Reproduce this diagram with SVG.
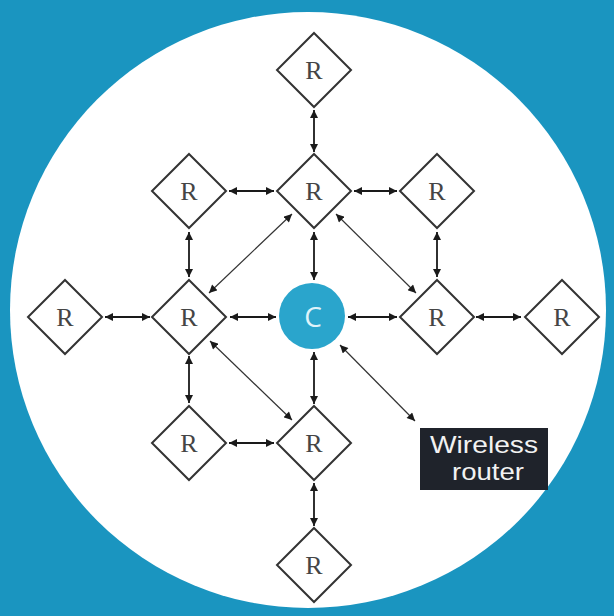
<svg xmlns="http://www.w3.org/2000/svg" width="614" height="616" viewBox="0 0 614 616">
<defs>
<marker id="ah" viewBox="0 0 10 10" refX="10" refY="5" markerWidth="9" markerHeight="8" markerUnits="userSpaceOnUse" orient="auto-start-reverse">
<path d="M0,0 L10,5 L0,10 Z" fill="#1a1a1a"/>
</marker>
<style>
.dia{fill:#fff;stroke:#333;stroke-width:2}
.rt{font-family:"Liberation Serif","DejaVu Serif",serif;font-size:26px;fill:#454545;text-anchor:middle}
.c{stroke:#1a1a1a;stroke-width:1.8;fill:none;marker-start:url(#ah);marker-end:url(#ah)}
.d{stroke:#333;stroke-width:1.2;fill:none;marker-start:url(#ah);marker-end:url(#ah)}
.wt{font-family:"Liberation Sans",Arial,sans-serif;font-size:24px;fill:#f2f2f2}
</style>
</defs>
<rect width="614" height="616" fill="#1a95c0"/>
<circle cx="308" cy="310" r="298" fill="#fff"/>
<g id="connectors">
<line class="c" x1="314" y1="110" x2="314" y2="152"/>
<line class="c" x1="229" y1="191" x2="274" y2="191"/>
<line class="c" x1="354" y1="191" x2="397" y2="191"/>
<line class="c" x1="189" y1="232" x2="189" y2="277"/>
<line class="c" x1="314" y1="232" x2="314" y2="280"/>
<line class="c" x1="437" y1="232" x2="437" y2="277"/>
<line class="d" x1="209" y1="293" x2="292" y2="214"/>
<line class="d" x1="336" y1="214" x2="416" y2="293"/>
<line class="c" x1="105" y1="317" x2="150" y2="317"/>
<line class="c" x1="230" y1="317" x2="276" y2="317"/>
<line class="c" x1="348" y1="317" x2="397" y2="317"/>
<line class="c" x1="476" y1="317" x2="521" y2="317"/>
<line class="c" x1="189" y1="356" x2="189" y2="403"/>
<line class="d" x1="210" y1="341" x2="292" y2="420"/>
<line class="c" x1="314" y1="352" x2="314" y2="404"/>
<line class="c" x1="229" y1="443" x2="274" y2="443"/>
<line class="c" x1="314" y1="483" x2="314" y2="526"/>
<line class="d" x1="340" y1="345" x2="415" y2="421"/>
</g>
<g id="r-top"><path class="dia" d="M314,33 L351,70 L314,107 L277,70 Z"/><text class="rt" x="314" y="79">R</text></g>
<g id="r-tl"><path class="dia" d="M189,154 L226,191 L189,228 L152,191 Z"/><text class="rt" x="189" y="200">R</text></g>
<g id="r-tc"><path class="dia" d="M314,154 L351,191 L314,228 L277,191 Z"/><text class="rt" x="314" y="200">R</text></g>
<g id="r-tr"><path class="dia" d="M437,154 L474,191 L437,228 L400,191 Z"/><text class="rt" x="437" y="200">R</text></g>
<g id="r-fl"><path class="dia" d="M65,280 L102,317 L65,354 L28,317 Z"/><text class="rt" x="65" y="326">R</text></g>
<g id="r-ml"><path class="dia" d="M189,280 L226,317 L189,354 L152,317 Z"/><text class="rt" x="189" y="326">R</text></g>
<g id="c-node"><circle cx="312" cy="316" r="33" fill="#2aa5cc"/><text x="313" y="327" font-family="'Open Sans','Liberation Sans',sans-serif" font-size="28" fill="#dff3fa" text-anchor="middle">C</text></g>
<g id="r-mr"><path class="dia" d="M437,280 L474,317 L437,354 L400,317 Z"/><text class="rt" x="437" y="326">R</text></g>
<g id="r-fr"><path class="dia" d="M562,280 L599,317 L562,354 L525,317 Z"/><text class="rt" x="562" y="326">R</text></g>
<g id="r-bl"><path class="dia" d="M189,406 L226,443 L189,480 L152,443 Z"/><text class="rt" x="189" y="452">R</text></g>
<g id="r-bc"><path class="dia" d="M314,406 L351,443 L314,480 L277,443 Z"/><text class="rt" x="314" y="452">R</text></g>
<g id="r-bottom"><path class="dia" d="M314,528 L351,565 L314,602 L277,565 Z"/><text class="rt" x="314" y="574">R</text></g>
<g id="wireless-router"><rect x="420" y="428" width="128" height="62" fill="#1f232b"/>
<text class="wt" x="430" y="453" textLength="108" lengthAdjust="spacingAndGlyphs">Wireless</text>
<text class="wt" x="452" y="480" textLength="72" lengthAdjust="spacingAndGlyphs">router</text></g>
</svg>
